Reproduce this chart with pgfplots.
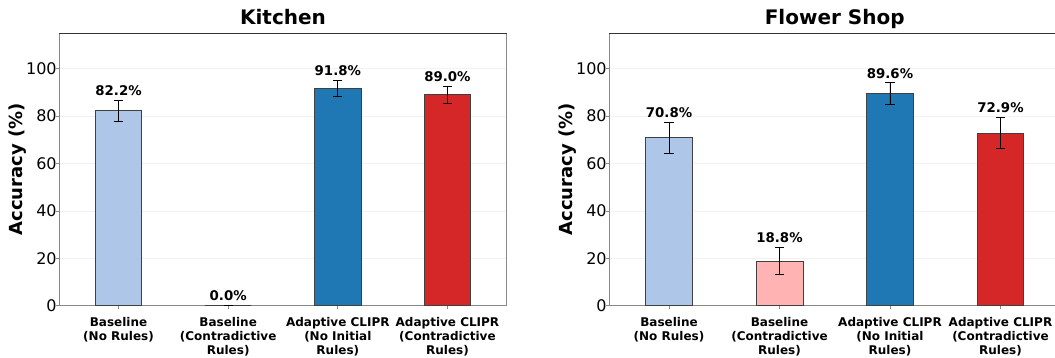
\documentclass[border=0pt]{standalone}
\usepackage{pgfplots}
\pgfplotsset{compat=1.18}
\usepackage{fontspec}
\setmainfont{DejaVu Sans}
\definecolor{lblue}{HTML}{AEC7E8}
\definecolor{lpink}{HTML}{FFB3B3}
\definecolor{tblue}{HTML}{1F77B4}
\definecolor{tred}{HTML}{D62728}
\definecolor{spine}{HTML}{888888}

\pgfplotsset{
  panel/.style={
    scale only axis,
    height=204.3pt,
    ymin=0, ymax=115,
    xmin=-0.54, xmax=3.54,
    ytick={0,20,40,60,80,100},
    xtick={0,1,2,3},
    xtick pos=lower, ytick pos=left,
    xticklabels={{Baseline\\(No Rules)},{Baseline\\(Contradictive\\Rules)},{Adaptive CLIPR\\(No Initial\\Rules)},{Adaptive CLIPR\\(Contradictive\\Rules)}},
    xticklabel style={font=\bfseries\fontsize{9}{10.4}\selectfont, align=center, anchor=north, yshift=-3pt},
    yticklabel style={font=\fontsize{12}{14}\selectfont, xshift=4pt},
    /pgf/number format/assume math mode=true,
    ymajorgrids, major grid style={black!5, line width=0.6pt},
    major tick length=2.5pt,
    tick style={spine, line width=0.6pt},
    tick align=outside,
    axis line style={spine, line width=0.9pt},
    every axis title shift=0pt,
    title style={font=\bfseries\fontsize{15}{18}\selectfont, at={(0.5,1)}, anchor=base, yshift=6.2pt},
    ylabel={\bfseries Accuracy (\%)},
    ylabel style={font=\bfseries\fontsize{13.5}{16}\selectfont},
    ylabel shift=-7pt,
    ybar, bar width=0.425,
    clip=false,
    after end axis/.code={\draw[black!80, line width=0.9pt] (rel axis cs:0,1) -- (rel axis cs:1,1);},
  },
  bstyle/.style={draw=black!75, line width=0.7pt, bar shift=0pt,
    error bars/y dir=both, error bars/y explicit,
    error bars/error bar style={black, line width=0.7pt},
    error bars/error mark options={rotate=90, mark size=3.5pt, black, line width=0.7pt}},
}

\begin{document}
\begin{tikzpicture}
\useasboundingbox (0,0) rectangle (791.25pt,267.75pt);
\clip (0,0) rectangle (791.25pt,267.75pt);

% Kitchen
\begin{axis}[panel, at={(44.5pt,38.5pt)}, anchor=south west, width=335.5pt,
  title={Kitchen}]
\addplot[bstyle, fill=lblue] coordinates {(0,82.2) +- (0,4.6)};
\addplot[bstyle, fill=lpink] coordinates {(1,0.0) +- (0,0)};
\addplot[bstyle, fill=tblue] coordinates {(2,91.8) +- (0,3.4)};
\addplot[bstyle, fill=tred] coordinates {(3,89.0) +- (0,3.7)};
\node[font=\bfseries\fontsize{10}{12}\selectfont, anchor=base] at (axis cs:0,88.8) {82.2\%};
\node[font=\bfseries\fontsize{10}{12}\selectfont, anchor=base] at (axis cs:1,2.2) {0.0\%};
\node[font=\bfseries\fontsize{10}{12}\selectfont, anchor=base] at (axis cs:2,97.2) {91.8\%};
\node[font=\bfseries\fontsize{10}{12}\selectfont, anchor=base] at (axis cs:3,94.7) {89.0\%};
\end{axis}

% Flower Shop
\begin{axis}[panel, at={(457pt,38.5pt)}, anchor=south west, width=338.1pt,
  title={Flower Shop}]
\addplot[bstyle, fill=lblue] coordinates {(0,70.8) +- (0,6.6)};
\addplot[bstyle, fill=lpink] coordinates {(1,18.8) +- (0,5.7)};
\addplot[bstyle, fill=tblue] coordinates {(2,89.6) +- (0,4.5)};
\addplot[bstyle, fill=tred] coordinates {(3,72.9) +- (0,6.5)};
\node[font=\bfseries\fontsize{10}{12}\selectfont, anchor=base] at (axis cs:0,79.4) {70.8\%};
\node[font=\bfseries\fontsize{10}{12}\selectfont, anchor=base] at (axis cs:1,26.5) {18.8\%};
\node[font=\bfseries\fontsize{10}{12}\selectfont, anchor=base] at (axis cs:2,96.1) {89.6\%};
\node[font=\bfseries\fontsize{10}{12}\selectfont, anchor=base] at (axis cs:3,81.4) {72.9\%};
\end{axis}
\end{tikzpicture}
\end{document}
